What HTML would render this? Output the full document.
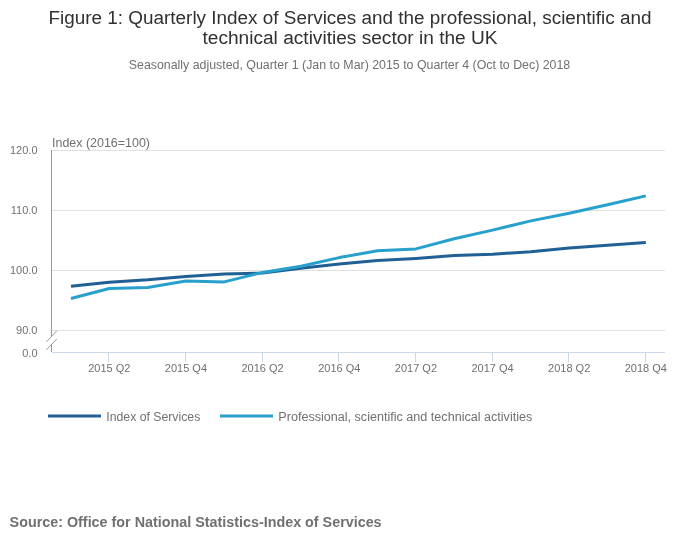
<!DOCTYPE html>
<html><head><meta charset="utf-8"><style>
html,body{margin:0;padding:0;background:#fff;width:700px;height:549px;overflow:hidden}
svg{display:block}
text{font-family:"Liberation Sans",Arial,sans-serif}
.ax{font-size:11px;fill:#707071}
</style></head><body>
<svg width="700" height="549" viewBox="0 0 700 549">
<rect width="700" height="549" fill="#fff"/>
<text x="350" y="24" text-anchor="middle" font-size="18" fill="#323132" textLength="603" lengthAdjust="spacingAndGlyphs">Figure 1: Quarterly Index of Services and the professional, scientific and</text>
<text x="350" y="44.3" text-anchor="middle" font-size="18" fill="#323132" textLength="295" lengthAdjust="spacingAndGlyphs">technical activities sector in the UK</text>
<text x="349.5" y="68.9" text-anchor="middle" font-size="12" fill="#707071" textLength="441.5" lengthAdjust="spacingAndGlyphs">Seasonally adjusted, Quarter 1 (Jan to Mar) 2015 to Quarter 4 (Oct to Dec) 2018</text>
<text x="52" y="146.9" font-size="12" fill="#707071" textLength="98" lengthAdjust="spacingAndGlyphs">Index (2016=100)</text>
<path d="M52 150.5H665" stroke="#e0e0e0" stroke-width="1"/>
<path d="M52 210.5H665" stroke="#e0e0e0" stroke-width="1"/>
<path d="M52 270.5H665" stroke="#e0e0e0" stroke-width="1"/>
<path d="M52 330.5H665" stroke="#e0e0e0" stroke-width="1"/>

<path d="M52 352.5H665" stroke="#ccd6eb" stroke-width="1"/>
<path d="M108.5 352V362" stroke="#ccd6eb" stroke-width="1"/>
<path d="M185.5 352V362" stroke="#ccd6eb" stroke-width="1"/>
<path d="M262.5 352V362" stroke="#ccd6eb" stroke-width="1"/>
<path d="M338.5 352V362" stroke="#ccd6eb" stroke-width="1"/>
<path d="M415.5 352V362" stroke="#ccd6eb" stroke-width="1"/>
<path d="M492.5 352V362" stroke="#ccd6eb" stroke-width="1"/>
<path d="M568.5 352V362" stroke="#ccd6eb" stroke-width="1"/>
<path d="M645.5 352V362" stroke="#ccd6eb" stroke-width="1"/>

<path d="M51.5 150V336.8M51.5 344.3V352" stroke="#999" stroke-width="1"/>
<path d="M46.3 342L56.8 330.8M46.3 349.9L56.8 339" stroke="#999" stroke-width="1"/>
<text x="37.5" y="153.7" text-anchor="end" class="ax">120.0</text>
<text x="37.5" y="213.7" text-anchor="end" class="ax">110.0</text>
<text x="37.5" y="273.7" text-anchor="end" class="ax">100.0</text>
<text x="37.5" y="333.7" text-anchor="end" class="ax">90.0</text>
<text x="37.5" y="356.6" text-anchor="end" class="ax">0.0</text>

<text x="109.30" y="371.6" text-anchor="middle" class="ax">2015 Q2</text>
<text x="185.95" y="371.6" text-anchor="middle" class="ax">2015 Q4</text>
<text x="262.60" y="371.6" text-anchor="middle" class="ax">2016 Q2</text>
<text x="339.25" y="371.6" text-anchor="middle" class="ax">2016 Q4</text>
<text x="415.90" y="371.6" text-anchor="middle" class="ax">2017 Q2</text>
<text x="492.55" y="371.6" text-anchor="middle" class="ax">2017 Q4</text>
<text x="569.20" y="371.6" text-anchor="middle" class="ax">2018 Q2</text>
<text x="645.85" y="371.6" text-anchor="middle" class="ax">2018 Q4</text>

<polyline points="70.95,286.30 109.28,282.30 147.60,279.80 185.93,276.40 224.25,273.90 262.57,273.10 300.90,268.30 339.23,263.90 377.55,260.50 415.88,258.40 454.20,255.60 492.53,254.20 530.85,251.80 569.18,248.00 607.50,245.20 645.83,242.50" fill="none" stroke="#206095" stroke-width="3" stroke-linejoin="round"/>
<polyline points="70.95,298.50 109.28,288.50 147.60,287.50 185.93,281.00 224.25,281.90 262.57,272.40 300.90,266.20 339.23,257.60 377.55,250.80 415.88,248.90 454.20,238.70 492.53,230.10 530.85,220.90 569.18,213.20 607.50,204.70 645.83,195.90" fill="none" stroke="#27a0cc" stroke-width="3" stroke-linejoin="round"/>
<path d="M48 416H101" stroke="#206095" stroke-width="3"/>
<text x="106.3" y="420.7" font-size="12" fill="#707071" textLength="94" lengthAdjust="spacingAndGlyphs">Index of Services</text>
<path d="M220 416H273" stroke="#27a0cc" stroke-width="3"/>
<text x="278.3" y="420.7" font-size="12" fill="#707071" textLength="254" lengthAdjust="spacingAndGlyphs">Professional, scientific and technical activities</text>
<text x="9.6" y="526.8" font-size="14" font-weight="bold" fill="#707071" textLength="372" lengthAdjust="spacingAndGlyphs">Source: Office for National Statistics-Index of Services</text>
</svg>
</body></html>
